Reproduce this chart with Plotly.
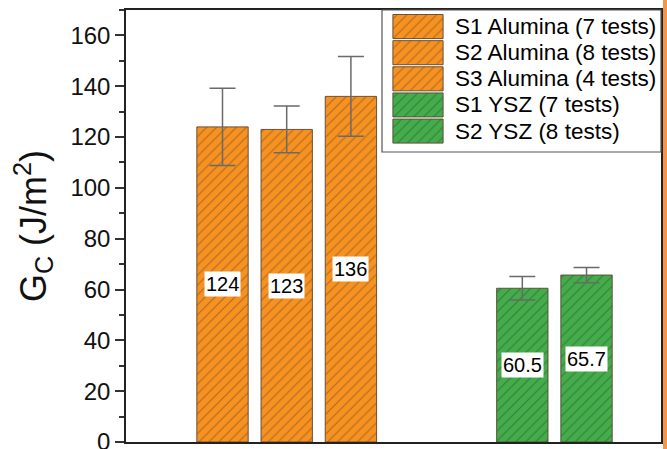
import plotly.graph_objects as go

# Fracture energy G_C per sample series
series_names = [
    "S1 Alumina (7 tests)",
    "S2 Alumina (8 tests)",
    "S3 Alumina (4 tests)",
    "S1 YSZ (7 tests)",
    "S2 YSZ (8 tests)",
]
materials = ["Alumina", "Alumina", "Alumina", "YSZ", "YSZ"]
gc_values = [124, 123, 136, 60.5, 65.7]
gc_errors = [15.2, 9.2, 15.7, 4.6, 3.0]
value_labels = ["124", "123", "136", "60.5", "65.7"]
y_ticks = [0, 20, 40, 60, 80, 100, 120, 140, 160]

FONT = "Liberation Sans, Arial, sans-serif"
fill_colors = {"Alumina": "rgb(247,145,32)", "YSZ": "rgb(68,172,74)"}
hatch_colors = {"Alumina": "rgba(95,70,45,0.5)", "YSZ": "rgba(35,80,40,0.5)"}

# bar positions: consecutive within a material, extra gap between materials
group_gap = 1.67
x_pos = []
pos = 0.0
for i, m in enumerate(materials):
    if i > 0:
        pos += 1.0 + (group_gap if m != materials[i - 1] else 0.0)
    x_pos.append(pos)

W, H = 667, 449
ML, MR, MT, MB = 126, 6, 10, 7
plot_w = W - ML - MR
plot_h = H - MT - MB


def bar_marker(m):
    return dict(
        color=fill_colors[m],
        line=dict(color="rgba(90,70,50,0.9)", width=1),
        pattern=dict(shape="/", fgcolor=hatch_colors[m], bgcolor=fill_colors[m],
                     size=7, solidity=0.16, fillmode="replace"),
    )


fig = go.Figure()

for i, name in enumerate(series_names):
    m = materials[i]
    fig.add_trace(go.Bar(
        x=[x_pos[i]], y=[gc_values[i]], name=name, width=0.80,
        marker=bar_marker(m),
        error_y=dict(type="data", array=[gc_errors[i]], visible=True,
                     color="#6a6a6a", thickness=1.5, width=13),
        showlegend=False, xaxis="x", yaxis="y",
    ))
    # value label boxes at mid-height of each bar
    fig.add_annotation(
        x=x_pos[i], y=gc_values[i] / 2, xref="x", yref="y",
        text=value_labels[i], showarrow=False,
        font=dict(family=FONT, size=20, color="black"),
        bgcolor="white", borderpad=1,
    )

# legend key drawn as a small overlaid subplot so swatches can be large and hatched
leg_x0_px, leg_x1_px = 382, W - MR
leg_y0_px, leg_y1_px = MT, 152
x2_domain = [(leg_x0_px - ML) / plot_w, (leg_x1_px - ML) / plot_w]
y2_domain = [(H - MB - leg_y1_px) / plot_h, 1.0]

for i, name in enumerate(series_names):
    m = materials[i]
    fig.add_trace(go.Bar(
        y=[name], x=[0.18], base=[0.039], orientation="h", width=0.92,
        marker=bar_marker(m),
        showlegend=False, xaxis="x2", yaxis="y2", hoverinfo="skip",
    ))
    fig.add_annotation(
        x=0.255, y=name, xref="x2", yref="y2", xanchor="left", yanchor="middle",
        text=name, showarrow=False,
        font=dict(family=FONT, size=22.5, color="black"),
    )

fig.add_shape(type="rect", xref="x2 domain", yref="y2 domain",
              x0=0, x1=1, y0=0, y1=1, line=dict(color="#555", width=1.2))

# page edge strip on the right
fig.add_shape(type="rect", xref="paper", yref="paper",
              x0=(663 - ML) / plot_w, x1=(W - ML + 2) / plot_w,
              y0=-(MB + 2) / plot_h, y1=1 + (MT + 2) / plot_h,
              fillcolor="rgb(246,148,72)", line=dict(width=0), layer="above")

fig.update_layout(
    width=W, height=H,
    margin=dict(l=ML, r=MR, t=MT, b=MB, autoexpand=False),
    paper_bgcolor="white", plot_bgcolor="white",
    font=dict(family=FONT, color="black"),
    barmode="overlay",
    xaxis=dict(range=[-1.503, 6.83], showticklabels=False, ticks="",
               showgrid=False, zeroline=False, showline=True, automargin=False,
               linecolor="#222", linewidth=1.5, mirror=True),
    yaxis=dict(range=[0, 170], tickvals=y_ticks, ticks="outside", ticklen=9,
               tickwidth=1.5, tickcolor="#333", ticklabeloverflow="allow",
               automargin=False,
               minor=dict(dtick=10, ticks="outside", ticklen=5, tickwidth=1.5, tickcolor="#333"),
               tickfont=dict(size=24, family=FONT, color="#111"),
               showgrid=False, zeroline=False, showline=True,
               linecolor="#222", linewidth=1.5, mirror=True,
               title=dict(text="G<sub>C</sub> (J/m<sup>2</sup>)",
                          font=dict(size=36, family=FONT, color="#111"), standoff=13)),
    xaxis2=dict(domain=x2_domain, range=[0, 1], anchor="y2", visible=False, fixedrange=True),
    yaxis2=dict(domain=y2_domain, range=[4.80, -0.632], anchor="x2", visible=False,
                type="category", fixedrange=True),
)

fig.write_html("out.html")
